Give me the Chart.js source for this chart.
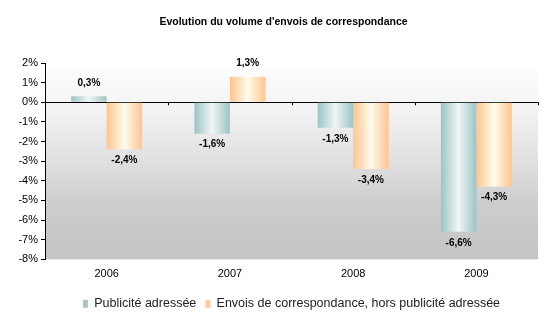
<!DOCTYPE html>
<html>
<head>
<meta charset="utf-8">
<script src="https://cdn.jsdelivr.net/npm/chart.js@4"></script>
<style>
  html, body { margin: 0; padding: 0; background: #fff; }
  #wrap { width: 554px; height: 325px; }
</style>
</head>
<body>
<div id="wrap"><canvas id="volumeChart"></canvas></div>
<script>
// Data (% change per year)
const years = ['2006', '2007', '2008', '2009'];
const publiciteAdressee = [0.3, -1.6, -1.3, -6.6];
const envoisHorsPublicite = [-2.4, 1.3, -3.4, -4.3];
const seriesNames = ['Publicité adressée', 'Envois de correspondance, hors publicité adressée'];
const chartTitle = "Evolution du volume d'envois de correspondance";
const yMin = -8;
const yMax = 2;

// edge / middle colours of the shaded bars
const shades = [
  { edge: '#9cc4c4', mid: '#f0f6f6', legend: '#a9c6c6' },
  { edge: '#ffc48e', mid: '#fffcec', legend: '#ffcc9e' }
];

const fmt = v => v.toFixed(1).replace('.', ',') + '%';

// greyish gradient behind the plot + the title
const plotBackground = {
  id: 'plotBackground',
  beforeDraw(chart) {
    const { ctx, chartArea: a } = chart;
    const g = ctx.createLinearGradient(0, a.top, 0, a.bottom);
    g.addColorStop(0, '#ffffff');
    g.addColorStop(0.25, '#f2f2f2');
    g.addColorStop(0.5, '#e0e0e0');
    g.addColorStop(0.72, '#cdcdcd');
    g.addColorStop(1, '#c4c4c4');
    ctx.save();
    ctx.fillStyle = g;
    ctx.fillRect(a.left, a.top + 6, a.right - a.left, a.bottom - a.top - 6);

    ctx.font = 'bold 10.5px "Liberation Sans", Arial, sans-serif';
    ctx.fillStyle = '#000';
    ctx.textAlign = 'center';
    ctx.textBaseline = 'middle';
    ctx.fillText(chartTitle, 283.5, 22);
    ctx.restore();
  }
};

// horizontal "cylinder" shading on every bar
const barShading = {
  id: 'barShading',
  beforeDatasetsDraw(chart) {
    const ctx = chart.ctx;
    chart.data.datasets.forEach((ds, i) => {
      chart.getDatasetMeta(i).data.forEach(bar => {
        const left = bar.x - bar.width / 2;
        const g = ctx.createLinearGradient(left, 0, left + bar.width, 0);
        g.addColorStop(0, shades[i].edge);
        g.addColorStop(0.5, shades[i].mid);
        g.addColorStop(1, shades[i].edge);
        bar.options = Object.assign({}, bar.options, { backgroundColor: g });
      });
    });
  }
};

// value labels and the little ticks on the zero line
const valueLabels = {
  id: 'valueLabels',
  afterDatasetsDraw(chart) {
    const ctx = chart.ctx;
    const x = chart.scales.x;
    const y0 = chart.scales.y.getPixelForValue(0);
    ctx.save();
    ctx.strokeStyle = '#000';
    ctx.lineWidth = 1;
    for (let k = 1; k <= years.length; k++) {
      const px = Math.round(x.left + (x.right - x.left) * k / years.length) + 0.5;
      ctx.beginPath();
      ctx.moveTo(px, y0);
      ctx.lineTo(px, y0 + 3);
      ctx.stroke();
    }
    ctx.font = 'bold 10px "Liberation Sans", Arial, sans-serif';
    ctx.fillStyle = '#000';
    ctx.textAlign = 'center';
    ctx.textBaseline = 'middle';
    chart.data.datasets.forEach((ds, i) => {
      chart.getDatasetMeta(i).data.forEach((bar, j) => {
        const v = ds.data[j];
        const ty = v >= 0 ? bar.y - 13 : bar.y + 11;
        ctx.fillText(fmt(v), bar.x, ty);
      });
    });
    ctx.restore();
  }
};

new Chart(document.getElementById('volumeChart'), {
  type: 'bar',
  data: {
    labels: years,
    datasets: [{
      label: seriesNames[0],
      data: publiciteAdressee,
      backgroundColor: shades[0].legend,
      borderWidth: 0,
      categoryPercentage: 0.576,
      barPercentage: 1
    }, {
      label: seriesNames[1],
      data: envoisHorsPublicite,
      backgroundColor: shades[1].legend,
      borderWidth: 0,
      categoryPercentage: 0.576,
      barPercentage: 1
    }]
  },
  options: {
    responsive: true,
    maintainAspectRatio: false,
    animation: false,
    layout: { padding: { top: 63, left: 0, right: 16, bottom: 5 } },
    plugins: {
      title: { display: false },
      legend: {
        position: 'bottom',
        fullSize: false,
        labels: {
          color: '#222',
          boxWidth: 5,
          boxHeight: 8,
          padding: 9,
          font: { family: '"Liberation Sans", Arial, sans-serif', size: 12.5 }
        }
      },
      tooltip: { enabled: false }
    },
    scales: {
      x: {
        grid: { display: false },
        border: { display: false },
        afterFit(scale) { scale.height += 8; },
        ticks: {
          color: '#000',
          padding: 0,
          font: { family: '"Liberation Sans", Arial, sans-serif', size: 11 }
        }
      },
      y: {
        min: yMin,
        max: yMax,
        afterFit(scale) { scale.width = 45; },
        ticks: {
          stepSize: 1,
          color: '#000',
          padding: 3,
          font: { family: '"Liberation Sans", Arial, sans-serif', size: 11 },
          callback: v => v + '%'
        },
        grid: {
          drawOnChartArea: true,
          tickLength: 4,
          tickColor: '#000',
          color: c => (c.tick && c.tick.value === 0 ? '#000' : 'rgba(0,0,0,0)')
        },
        border: { display: true, color: '#000' }
      }
    }
  },
  plugins: [plotBackground, barShading, valueLabels]
});
</script>
</body>
</html>
